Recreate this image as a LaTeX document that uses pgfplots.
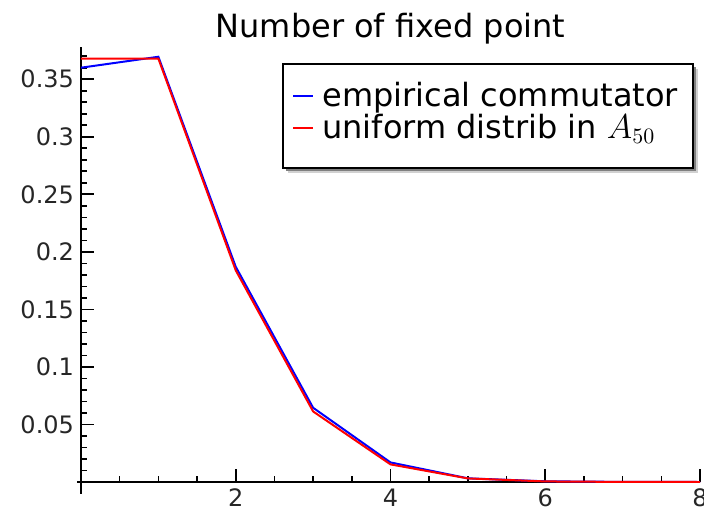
\documentclass[border=0pt]{standalone}
\usepackage{fontspec}
\setmainfont{DejaVu Sans}
\usepackage{pgfplots}
\pgfplotsset{compat=1.18}
\pgfdeclarelayer{bg}
\pgfsetlayers{bg,main}
\begin{document}
\begin{tikzpicture}
\begin{axis}[
  name=ax,
  scale only axis,
  width=309.5pt, height=217.5pt,
  xmin=0, xmax=8, ymin=0, ymax=0.378,
  axis lines=left,
  axis line style={-, line width=1pt},
  tick align=inside,
  major tick length=6.5pt,
  minor tick length=3.2pt,
  every tick/.style={black, line width=0.8pt},
  xtick={2,4,6,8},
  minor xtick={0.5,1,1.5,2.5,3,3.5,4.5,5,5.5,6.5,7,7.5},
  ytick={0.05,0.1,0.15,0.2,0.25,0.3,0.35},
  minor ytick={0.01,0.02,0.03,0.04,0.06,0.07,0.08,0.09,0.11,0.12,0.13,0.14,0.16,0.17,0.18,0.19,0.21,0.22,0.23,0.24,0.26,0.27,0.28,0.29,0.31,0.32,0.33,0.34,0.36,0.37},
  /pgf/number format/assume math mode=true,
  yticklabel style={/pgf/number format/fixed, /pgf/number format/precision=2},
  tick label style={font=\fontsize{12}{14}\selectfont, text=black!85},
  title={Number of fixed point},
  title style={font=\fontsize{16}{19}\selectfont, at={(0.5,1)}, anchor=south, yshift=-8pt},
  legend style={
    name=leg,
    at={(0.3409,0.9189)}, anchor=north west,
    draw=none, fill=none,
    font=\fontsize{16}{19}\selectfont,
    inner sep=0pt,
    row sep=2.15pt, column sep=4pt,
    nodes={inner sep=0pt},
  },
  legend cell align=left,
  legend image code/.code={\draw[#1] (0pt,0pt) -- (10pt,0pt);},
]
\addplot[blue, line width=1pt] coordinates {
  (0,0.360) (1,0.3695) (2,0.187) (3,0.0645) (4,0.017) (5,0.0032) (6,0.0006) (7,0.0001) (8,0.0)
};
\addlegendentry{empirical commutator}
\addplot[red, line width=1pt] coordinates {
  (0,0.3679) (1,0.3679) (2,0.1839) (3,0.0613) (4,0.0153) (5,0.0031) (6,0.0005) (7,0.00007) (8,0.0)
};
\addlegendentry{uniform distrib in $A_{50}$}
\end{axis}
\begin{pgfonlayer}{bg}
  \fill[black!18] ([shift={(101.15pt+2.3pt,157pt-2.3pt)}]ax.south west) rectangle ([shift={(306pt+2.3pt,208.85pt-2.3pt)}]ax.south west);
  \fill[black!50] ([shift={(101.15pt+1.5pt,157pt-1.5pt)}]ax.south west) rectangle ([shift={(306pt+1.5pt,208.85pt-1.5pt)}]ax.south west);
  \draw[line width=1pt, fill=white] ([shift={(101.15pt,157pt)}]ax.south west) rectangle ([shift={(306pt,208.85pt)}]ax.south west);
\end{pgfonlayer}
\draw[line width=1pt] (ax.south west) -- ++(0,-6pt);
\draw[line width=1pt] (ax.south west) -- ++(-2pt,0);
\pgfresetboundingbox
\path (ax.south west) ++(-40.5pt,-18pt) rectangle ++(352pt,259pt);
\end{tikzpicture}
\end{document}
